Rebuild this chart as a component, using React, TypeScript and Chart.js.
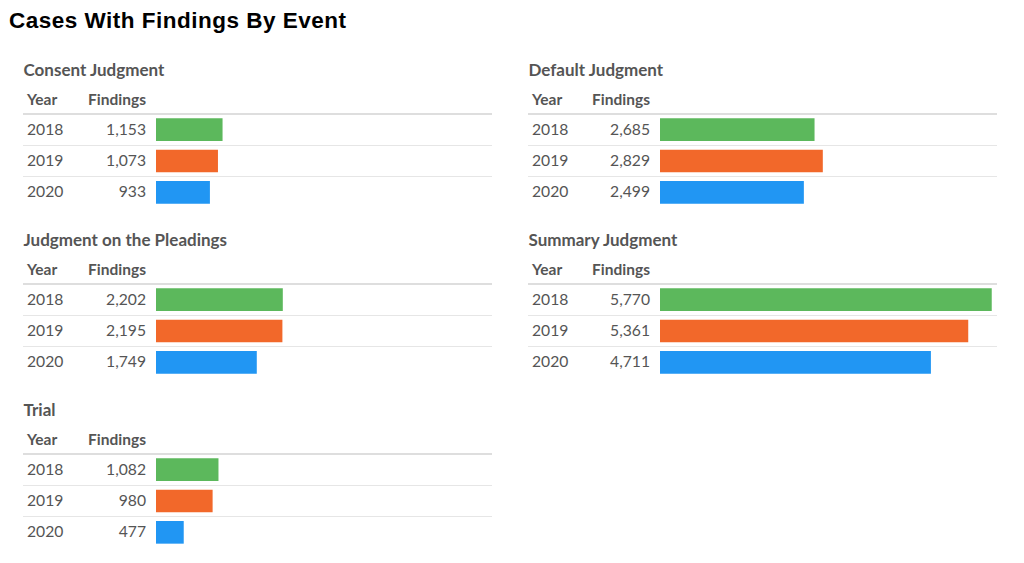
import React, { useEffect, useRef } from 'react';
import { Chart, registerables } from 'chart.js';

Chart.register(...registerables);

// ---- data ----
const years = ['2018', '2019', '2020'];
const consentJudgment = [1153, 1073, 933];
const defaultJudgment = [2685, 2829, 2499];
const pleadingsJudgment = [2202, 2195, 1749];
const summaryJudgment = [5770, 5361, 4711];
const trialFindings = [1082, 980, 477];
const yearColors = ['#5cb85c', '#f2682a', '#2196f3'];
const chartTitle = 'Cases With Findings By Event';
const yearHeader = 'Year';
const findingsHeader = 'Findings';
const scaleMax = 5850;

const LATO = 'Lato, "Noto Sans", sans-serif';
const TEXT = '#555555';

function textTop(baseline: number, fs: number) {
  return baseline - 0.887 * fs;
}

function Bars({ values, left, top, width, height }: { values: number[]; left: number; top: number; width: number; height: number }) {
  const ref = useRef<HTMLCanvasElement | null>(null);
  useEffect(() => {
    if (!ref.current) return;
    const chart = new Chart(ref.current, {
      type: 'bar',
      data: {
        labels: years,
        datasets: [
          {
            data: values,
            backgroundColor: yearColors,
            borderWidth: 0,
            barThickness: 22,
          },
        ],
      },
      options: {
        indexAxis: 'y',
        animation: false,
        responsive: false,
        maintainAspectRatio: false,
        devicePixelRatio: 1,
        layout: { padding: 0 },
        plugins: { legend: { display: false }, tooltip: { enabled: false }, title: { display: false } },
        scales: {
          x: { display: false, min: 0, max: scaleMax, grid: { display: false } },
          y: { display: false, grid: { display: false } },
        },
      },
    });
    return () => chart.destroy();
  }, [values]);
  return (
    <canvas
      ref={ref}
      width={width}
      height={height}
      style={{ position: 'absolute', left, top, width, height }}
    />
  );
}

function Panel({ title, values, x0, y0, barLeft, numRight }: { title: string; values: number[]; x0: number; y0: number; barLeft: number; numRight: number }) {
  const lineW = 469;
  const rowFs = 15.7;
  const hdrFs = 15.5;
  const titleFs = 17;
  const items: React.ReactNode[] = [];
  items.push(
    <div key="t" style={{ position: 'absolute', left: x0 + 0.5, top: textTop(y0 - 38, titleFs), fontFamily: LATO, fontWeight: 700, fontSize: titleFs, lineHeight: titleFs + 'px', color: TEXT, whiteSpace: 'nowrap' }}>
      {title}
    </div>
  );
  items.push(
    <div key="hy" style={{ position: 'absolute', left: x0 + 4, top: textTop(y0 - 8.5, hdrFs), fontFamily: LATO, fontWeight: 700, fontSize: hdrFs, lineHeight: hdrFs + 'px', color: TEXT, whiteSpace: 'nowrap' }}>
      {yearHeader}
    </div>
  );
  items.push(
    <div key="hf" style={{ position: 'absolute', left: numRight - 100, width: 100, textAlign: 'right', top: textTop(y0 - 8.5, hdrFs), fontFamily: LATO, fontWeight: 700, fontSize: hdrFs, lineHeight: hdrFs + 'px', color: TEXT, whiteSpace: 'nowrap' }}>
      {findingsHeader}
    </div>
  );
  items.push(
    <div key="hl" style={{ position: 'absolute', left: x0, top: y0 - 1, width: lineW, height: 2, background: '#dedede' }} />
  );
  years.forEach((yr, i) => {
    const center = y0 + 16 + 31 * i;
    const base = center + 6;
    items.push(
      <div key={'y' + i} style={{ position: 'absolute', left: x0 + 4, top: textTop(base, rowFs), fontFamily: LATO, fontWeight: 400, fontSize: rowFs, lineHeight: rowFs + 'px', color: TEXT, whiteSpace: 'nowrap' }}>
        {yr}
      </div>
    );
    items.push(
      <div key={'v' + i} style={{ position: 'absolute', left: numRight - 100, width: 100, textAlign: 'right', top: textTop(base, rowFs), fontFamily: LATO, fontWeight: 400, fontSize: rowFs, lineHeight: rowFs + 'px', color: TEXT, whiteSpace: 'nowrap' }}>
        {values[i].toLocaleString('en-US')}
      </div>
    );
    if (i < years.length - 1) {
      items.push(
        <div key={'l' + i} style={{ position: 'absolute', left: x0, top: y0 + 31 * (i + 1), width: lineW, height: 1, background: '#e6e6e6' }} />
      );
    }
  });
  return (
    <>
      {items}
      <Bars values={values} left={barLeft} top={y0} width={336} height={94} />
    </>
  );
}

export default function App() {
  const tfs = 22.5;
  return (
    <div style={{ position: 'absolute', left: 0, top: 0, width: 1024, height: 563, background: '#ffffff', overflow: 'hidden' }}>
      <div style={{ position: 'absolute', left: 9, top: 29 - 0.8465 * tfs, fontFamily: '"Liberation Sans", Arial, sans-serif', fontWeight: 700, fontSize: tfs, lineHeight: tfs + 'px', letterSpacing: '0.5px', color: '#000', whiteSpace: 'nowrap' }}>
        {chartTitle}
      </div>
      <Panel title="Consent Judgment" values={consentJudgment} x0={23} y0={114} barLeft={156} numRight={146} />
      <Panel title="Judgment on the Pleadings" values={pleadingsJudgment} x0={23} y0={284} barLeft={156} numRight={146} />
      <Panel title="Trial" values={trialFindings} x0={23} y0={454} barLeft={156} numRight={146} />
      <Panel title="Default Judgment" values={defaultJudgment} x0={528} y0={114} barLeft={660} numRight={650} />
      <Panel title="Summary Judgment" values={summaryJudgment} x0={528} y0={284} barLeft={660} numRight={650} />
    </div>
  );
}
